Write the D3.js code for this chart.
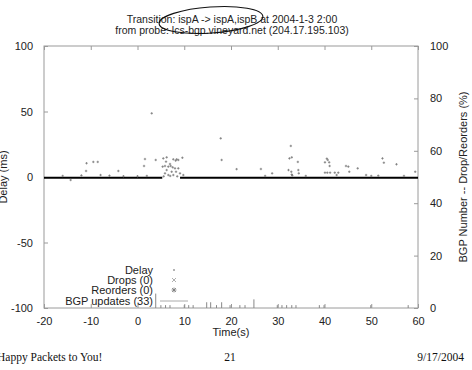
<!DOCTYPE html>
<html>
<head>
<meta charset="utf-8">
<script src="https://cdn.jsdelivr.net/npm/d3@7"></script>
<style>
  body { margin: 0; background: #fff; }
  svg text { font-family: "Liberation Sans", Arial, sans-serif; }
</style>
</head>
<body>
<div id="chart"></div>
<script>
// x ticks / y ticks
var timeTicks = [-20, -10, 0, 10, 20, 30, 40, 50, 60];
var delayTicks = [-100, -50, 0, 50, 100];
var pctTicks = [0, 20, 40, 60, 80, 100];

// runs of samples sitting on ~0 ms delay (time start, time end)
var zeroRuns = [[-20, 5.3], [9.1, 60]];

// scattered delay samples: time (s), delay (ms)
var delayTime = [-16, -14.3, -12, -11.0, -10.9, -9.45, -8.5, -7.9, -6, -4.1, -3, 0, 1.4, 1.6, 2, 3.04, 3.9,
  5.52, 6.24, 7.66, 8.38, 8.16, 8.73, 5.38, 5.88, 6.59, 7.1, 7.53, 8.02, 8.73, 6.24, 7.31, 5.88, 6.59, 7.66,
  8.24, 9.09, 9.8, 6.95, 6.1, 5.6, 7.0, 8.5, 9.6,
  17.8, 18.0, 21.2, 26.4, 27.3, 28.8, 32.3, 32.5, 32.8, 32.9, 33.0, 33.0, 33.1, 34.3, 34.4, 34.5, 36,
  40.1, 40.5, 40.7, 41.0, 41.1, 40.1, 40.6, 41.2, 42.2, 42.95, 42.6, 44.6, 45.1, 45.3, 47.1, 48.9,
  50, 51.5, 52.4, 52.7, 55.4, 57, 59.4];
var delayMs = [0.8, -2.3, 1.2, 4.6, 10.5, 11.5, 11.5, 1.5, 1.0, 4.6, 0.6, 0.6, 8.4, 13.7, 0.8, 48.6, 13,
  14.2, 15, 13.5, 13.5, 12.5, 13, 7.9, 8.4, 7.9, 8.4, 7.4, 6.6, 6.6, 5.3, 4.0, 2.8, 1.5, 1.5,
  4.0, 2.8, 1.5, 9.9, 11.7, 0.5, 0.8, 0.5, 14.7,
  29.5, 13, 6, 6.1, 0.8, 2.8, 5.3, 14.2, 23.7, 4, 15, 1.9, 1.2, 11.5, 5.3, 2.8, 0.8,
  11.2, 14, 13, 11.2, 8.4, 3.3, 3.3, 3.3, 3.3, 3.3, 1.5, 8.4, 7.9, 4, 6.6, 1.5,
  0.8, 1.0, 14.2, 10.9, 9.7, 0.8, 4];

// BGP updates per time bin: time (s), count
var bgpTime = [3.9, 5.0, 6.0, 6.95, 10.0, 10.95, 11.9, 14.8, 15.65, 16.9, 18.0, 19.8, 21.9, 23.0, 24.9,
  29.9, 30.9, 31.9, 33.0, 33.9, 38.9, 39.9, 49.9, 57.9];
var bgpCount = [5, 1, 1, 1, 1, 1, 1, 2, 2, 1, 2, 1, 1, 1, 3, 1, 1, 1, 1, 1, 1, 1, 1, 1];

var legendLabels = ["Delay", "Drops (0)", "Reorders (0)", "BGP updates (33)"];

var W = 472, H = 370;
var svg = d3.select("#chart").append("svg").attr("width", W).attr("height", H);

var x = d3.scaleLinear().domain([-20, 60]).range([44, 418]);
var yL = d3.scaleLinear().domain([-100, 100]).range([308, 46]);
var yR = d3.scaleLinear().domain([0, 100]).range([308, 46]);

var grey = "#9a9a9a";
var plain = function(d) { return String(d); };   // keep ascii hyphen for negatives

// frame
svg.append("rect").attr("x", 44).attr("y", 46).attr("width", 374).attr("height", 262)
  .attr("fill", "none").attr("stroke", grey).attr("stroke-width", 1);

// axes (ticks inward)
var gB = svg.append("g").attr("transform", "translate(0,308)")
  .call(d3.axisBottom(x).tickValues(timeTicks).tickFormat(plain).tickSizeInner(-4).tickSizeOuter(0).tickPadding(9));
var gT = svg.append("g").attr("transform", "translate(0,46)")
  .call(d3.axisTop(x).tickValues(timeTicks).tickSizeInner(-4).tickSizeOuter(0).tickFormat(""));
var gL = svg.append("g").attr("transform", "translate(44,0)")
  .call(d3.axisLeft(yL).tickValues(delayTicks).tickFormat(plain).tickSizeInner(-4).tickSizeOuter(0).tickPadding(11));
var gR = svg.append("g").attr("transform", "translate(418,0)")
  .call(d3.axisRight(yR).tickValues(pctTicks).tickFormat(plain).tickSizeInner(-4).tickSizeOuter(0).tickPadding(12));

[gB, gT, gL, gR].forEach(function(g) {
  g.select(".domain").remove();
  g.selectAll(".tick line").attr("stroke", grey);
  g.selectAll(".tick text").attr("fill", "#222").style("font-size", "11px")
    .style("font-family", "'Liberation Sans', Arial, sans-serif");
});

// axis titles
svg.append("text").attr("x", 231).attr("y", 336).attr("text-anchor", "middle")
  .style("font-size", "11px").attr("fill", "#222").text("Time(s)");
svg.append("text").attr("transform", "translate(7,177) rotate(-90)").attr("text-anchor", "middle")
  .style("font-size", "11px").attr("fill", "#222").text("Delay (ms)");
svg.append("text").attr("transform", "translate(467,177) rotate(-90)").attr("text-anchor", "middle")
  .style("font-size", "11px").attr("fill", "#222").text("BGP Number -- Drop/Reorders (%)");

// title
svg.append("text").attr("x", 232).attr("y", 23).attr("text-anchor", "middle")
  .style("font-size", "10.5px").attr("fill", "#222").text("Transition: ispA -> ispA,ispB at 2004-1-3 2:00");
svg.append("text").attr("x", 232).attr("y", 34).attr("text-anchor", "middle")
  .style("font-size", "10.5px").attr("fill", "#222").text("from probe: lcs-bgp.vineyard.net (204.17.195.103)");

// hand drawn ellipse over the title
svg.append("ellipse").attr("cx", 211).attr("cy", 20).attr("rx", 52).attr("ry", 13)
  .attr("transform", "rotate(-4,211,20)")
  .attr("fill", "none").attr("stroke", "#111").attr("stroke-width", 1.1);

// BGP update bars
svg.selectAll(".bgp").data(bgpTime).enter().append("line").classed("bgp", 1)
  .attr("x1", function(d) { return x(d); }).attr("x2", function(d) { return x(d); })
  .attr("y1", yR(0)).attr("y2", function(d, i) { return yR(bgpCount[i] * 1.1); })
  .attr("stroke", "#888").attr("stroke-width", 1);

// zero-delay runs
svg.selectAll(".zero").data(zeroRuns).enter().append("line").classed("zero", 1)
  .attr("x1", function(d) { return x(d[0]); }).attr("x2", function(d) { return x(d[1]); })
  .attr("y1", yL(-0.5)).attr("y2", yL(-0.5))
  .attr("stroke", "#000").attr("stroke-width", 2);

// delay points (tiny plus marks)
svg.selectAll(".delay").data(delayTime).enter().append("path").classed("delay", 1)
  .attr("d", function(d, i) {
    var px = x(d), py = yL(delayMs[i]);
    return "M" + (px - 1.2) + "," + py + "h2.4M" + px + "," + (py - 1.2) + "v2.4";
  })
  .attr("stroke", "#777").attr("stroke-width", 0.8).attr("fill", "none");

// legend
var legY = [270, 280, 290, 301];
svg.selectAll(".leg").data(legendLabels).enter().append("text").classed("leg", 1)
  .attr("x", 153).attr("y", function(d, i) { return legY[i] + 4; })
  .attr("text-anchor", "end").style("font-size", "11px").attr("fill", "#222")
  .text(function(d) { return d; });
svg.append("path").attr("d", "M173,270h2M174,269v2").attr("stroke", "#888").attr("stroke-width", 0.8);
svg.append("path").attr("d", "M172,278l4,4M176,278l-4,4").attr("stroke", "#999").attr("stroke-width", 0.8);
svg.append("path").attr("d", "M172,288l4,4M176,288l-4,4M174,287.5v5M171.5,290h5").attr("stroke", "#777").attr("stroke-width", 0.8);
svg.append("line").attr("x1", 160).attr("x2", 188).attr("y1", 301).attr("y2", 301)
  .attr("stroke", "#aaa").attr("stroke-width", 1);

// footer
var serif = "'Liberation Serif', 'Times New Roman', serif";
svg.append("text").attr("x", -3).attr("y", 361).style("font-family", serif).style("font-size", "11.5px")
  .attr("fill", "#111").text("Happy Packets to You!");
svg.append("text").attr("x", 230).attr("y", 361).attr("text-anchor", "middle").style("font-family", serif)
  .style("font-size", "11.5px").attr("fill", "#111").text("21");
svg.append("text").attr("x", 464).attr("y", 361).attr("text-anchor", "end").style("font-family", serif)
  .style("font-size", "11.5px").attr("fill", "#111").text("9/17/2004");
</script>
</body>
</html>
